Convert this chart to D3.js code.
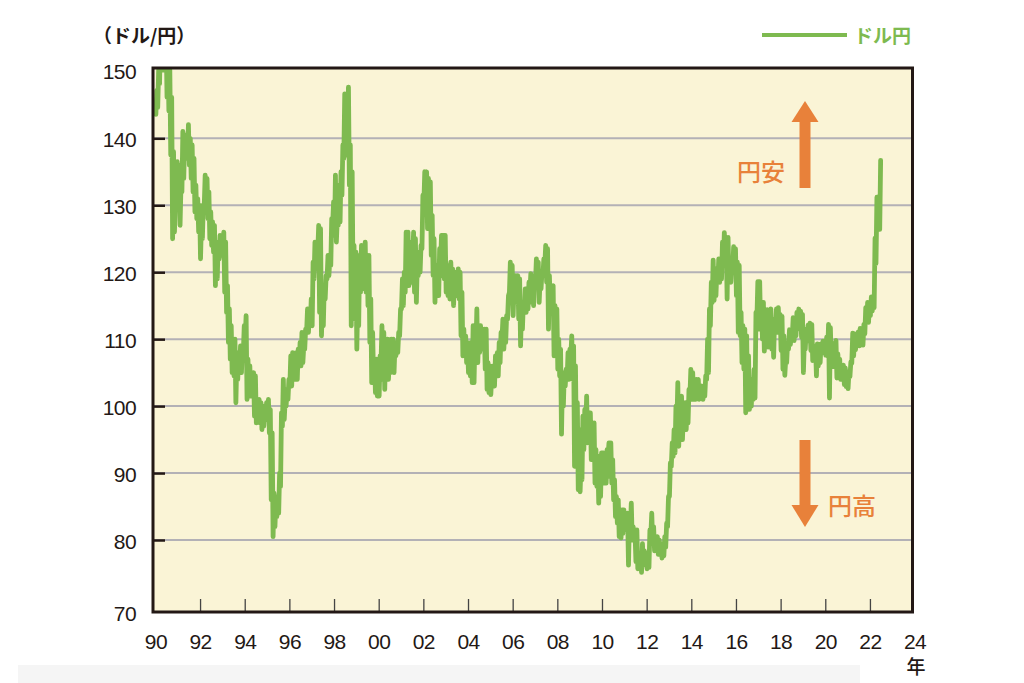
<!DOCTYPE html>
<html><head><meta charset="utf-8">
<script src="https://cdn.jsdelivr.net/npm/d3@7"></script>
<style>body{margin:0;background:#fff}</style>
</head><body>
<svg id="c" width="1024" height="683"></svg>
<script>
// USD/JPY monthly low / high (yen)
const years = [1990,1991,1992,1993,1994,1995,1996,1997,1998,1999,2000,2001,2002,2003,2004,2005,2006,2007,2008,2009,2010,2011,2012,2013,2014,2015,2016,2017,2018,2019,2020,2021,2022];
const monthlyLow = [
 [143.5,144.5,148,155,150,151.5,146,144,137.5,125,126,131],
 [131,127,132,134,137,137,136,134,132,129,128,126],
 [122,125,130,130,128,125,124,123,118,119,122,122.5],
 [123,117,114,109.5,107,105,104.5,100.5,104,105,105,108],
 [110,101,102,101.5,102,98.5,97.5,99,97.5,96.5,97,98.5],
 [98,96,86,80.5,82,83.5,84,88,97,98,100,101],
 [103,103,104,104,104,106,106,106.5,108.5,111,111,112],
 [112,119,120.5,123,114,110.5,112,116,119,119.5,121,127],
 [125.5,124.5,127,127.5,131.5,137,137.5,141,133,112,117,113],
 [108.5,112,117,117.5,119,117,115,109.5,103.5,104,102,101.5],
 [101.5,106.5,104,102.5,105.5,104,105,106,105,107.5,108,110.5],
 [114.5,115,117,121,118,118.5,122,117,115.5,119.5,120,123.5],
 [130,131,126.5,127,122.5,119.5,115.5,116.5,116.5,121,119.5,119],
 [117,116.5,116,117.5,115,116.5,116.5,116,110.5,107.5,107.5,106.5],
 [105,104.5,103.5,103.5,108.5,106.5,108,108.5,109,105.5,102.5,102],
 [101.7,103,103,104.5,104.5,106.5,110,108.5,109.5,113,117,115.5],
 [113.5,116,115.5,113,109,111.5,114,114,114.5,117,115.5,115],
 [118.5,118.5,115.5,117.5,119.5,121,118.5,111.5,114.5,114,107.5,110.5],
 [105.5,104.5,95.8,100,103,104,104,107.5,104,91,93.5,87.5],
 [87.2,89,93.5,96,94.5,94.5,92,92.5,88.5,88,85.5,86.5],
 [89,88.5,88.5,92.5,89.5,88.5,86,83.5,82.5,80.5,80.3,81],
 [81.5,81.5,76.5,81.5,80,80,77,76,76.3,75.5,76.5,77.5],
 [76,76.2,80.8,79.5,78.5,78.5,78,78,77.5,77.8,79,82],
 [86.5,91,92.5,93,97.5,94,97.5,95,97,96.5,97.5,101.5],
 [101,101,101,101.5,101,101.5,101,101.5,104,105,112,115.5],
 [115.8,116.5,118.5,118.5,119,121.5,122,116,118.5,118.5,120.5,120],
 [116.5,111,110.5,106.5,105.5,99,100,99.5,100,101,101.2,113],
 [111.5,111.5,110,108.2,110.5,108.8,110.5,108.5,107.3,111.5,111,111.5],
 [108.3,105.5,104.6,106.5,108.5,109.2,110.3,109.8,110.5,111.5,112.3,110.3],
 [105,108.5,109.7,110.8,108.3,106.8,107.2,104.5,106,106.5,108,108.5],
 [107.6,107.5,101.2,106.3,105.9,106.1,104.2,105.2,104,104,103.2,102.9],
 [102.6,104.4,106.4,107.5,108.4,109.2,109,109.1,109.1,110.8,112.6,112.5],
 [113.5,114.2,114.7,121.3,126.4,126.4]
];
const monthlyHigh = [
 [147,150,158,160,155,155,152,150,146,138,131,136.5],
 [136,133,141,140.5,140,142,140,139,137,133,131,130],
 [127.5,130,134.5,134,132,129,127.5,127,124,124.5,125.5,125.5],
 [126,124.5,118,114.5,112,110,110,107,108,109,109,112],
 [113.5,107,106,104.5,105,104.5,101,101,100.5,100,99.5,100.5],
 [101,99.5,96,87,86,86.5,90,99,104,101,102.5,104],
 [107.5,108,107.5,108,108.5,109.5,111,109,111.5,114.5,114,116],
 [121.5,124.5,124,127,126.5,115,118,119.5,122.5,122,128,130.5],
 [134.5,128,133,135,139,146.5,146,147.5,139,135,124,123],
 [116,122.5,124,121,124.5,122,122.5,116,111,107,107,105],
 [107.5,112,111,109,110,107,110,110,109,109.5,111,114.5],
 [119,120,126,126,124,124.5,126,125,121.5,123,124,131.5],
 [135,135,134,133.5,128.5,125,121,121,123.5,125.5,125.5,125.5],
 [120,121,121.5,120.5,120,119.5,120.5,120,117,111.5,110.5,109.5],
 [107.5,109.5,112,110.5,114.5,111,112,111.5,111.5,111.5,106.5,106],
 [104.5,106,107.5,108,109.5,111,113,111.5,113.5,116.5,121.5,121],
 [118,119.5,119.5,119,114.5,115.5,117.5,117.5,118.5,119.8,118.5,119.5],
 [122,121.5,119,120,122,124,123.5,119.5,117,118,115,114.5],
 [110,108.5,104,105,105.5,108,108.5,110.5,109,106,100.5,96.5],
 [91.5,98.5,99.5,101.5,99,99,96,97.5,93.5,92.5,92.5,93],
 [93,91.5,93.5,94.5,94.5,92,89,86.5,86,84,84.5,84.5],
 [83.5,84,83.5,85.5,82,81,81.5,78,77.5,79.5,78.5,78.2],
 [77.5,81.5,84,82,80.5,80.5,80,79.5,79,80.5,82.5,86.5],
 [91.5,94.5,96.5,100,103.5,100.5,101.5,99,100.5,99.5,102.5,105.5],
 [105,103,104,104,103,103,102.5,104.5,110,114.5,118.5,121.8],
 [120.5,120.5,122,120.5,124.5,125.9,125,125.2,121.5,121.5,123.8,123.5],
 [121.5,121,114,112,111.5,110.5,107.5,103,104,105.5,114,118.6],
 [118.6,114.9,115.5,112,114.4,112.5,114.5,111,113,114.5,114.7,113.7],
 [113.4,110.5,107,109.5,111.4,110.9,113.2,111.8,114,114.5,114.2,113.7],
 [109.8,111.5,112.1,112.4,112.2,108.8,109,109.3,108.5,109.3,109.7,109.7],
 [110.3,112.2,111.7,109.4,108.1,109.8,107.8,107,106.1,106.1,105.7,104.8],
 [105.2,106.6,110.9,110.8,110.2,111.1,111.6,110.8,112.2,114.7,115.5,115.2],
 [116.3,116.3,125.1,131.2,131.3,136.7]
];
const yTicks = [70,80,90,100,110,120,130,140,150];
const gridValues = [80,90,100,110,120,130,140];
const xTicks = [1990,1992,1994,1996,1998,2000,2002,2004,2006,2008,2010,2012,2014,2016,2018,2020,2022,2024];
const xTickLabels = ["90","92","94","96","98","00","02","04","06","08","10","12","14","16","18","20","22","24"];
const seriesName = "ドル円";
const unitLabel = "（ドル/円）";
const yearUnit = "年";
const upLabel = "円安", downLabel = "円高";

const GREEN = "#7eba50", ORANGE = "#e8813a", INK = "#231815";
const svg = d3.select("#c");
const frame = {left:153, right:912.5, top:68, bottom:612};

const x = d3.scaleLinear().domain([1990,2024]).range([155.4,914.6]);
const y = d3.scaleLinear().domain([70,80,140,150]).range([612,540,138.3,70]);

// bottom light band
svg.append("rect").attr("x",18).attr("y",665).attr("width",842).attr("height",18).attr("fill","#f5f5f5");

// plot bg
svg.append("rect").attr("x",frame.left).attr("y",frame.top)
  .attr("width",frame.right-frame.left).attr("height",frame.bottom-frame.top)
  .attr("fill","#faf4d6");

svg.append("clipPath").attr("id","clip").append("rect")
  .attr("x",frame.left).attr("y",frame.top)
  .attr("width",frame.right-frame.left).attr("height",frame.bottom-frame.top);

// gridlines
svg.append("g").selectAll("line").data(gridValues).join("line")
  .attr("x1",frame.left).attr("x2",frame.right)
  .attr("y1",d=>y(d)).attr("y2",d=>y(d))
  .attr("stroke","#b3b1b6").attr("stroke-width",2);

// x axis (ticks inside)
const xAxis = svg.append("g").attr("transform",`translate(0,${frame.bottom})`)
  .call(d3.axisBottom(x).tickValues(xTicks).tickSize(-13).tickPadding(22)
        .tickFormat((d,i)=>xTickLabels[i]));
xAxis.select(".domain").remove();
xAxis.selectAll(".tick line").attr("stroke","#444").attr("stroke-width",1.3)
  .attr("opacity",d=>(d===1990||d===2024)?0:1);
xAxis.selectAll(".tick text").attr("fill",INK)
  .style("font-family","'Liberation Sans',Arial,sans-serif").style("font-size","21px")
  .attr("letter-spacing","-0.6");

// y axis (ticks inside)
const yAxis = svg.append("g").attr("transform",`translate(${frame.left},0)`)
  .call(d3.axisLeft(y).tickValues(yTicks).tickSize(-12).tickPadding(17));
yAxis.select(".domain").remove();
yAxis.selectAll(".tick line").attr("stroke",INK).attr("stroke-width",2.5)
  .attr("opacity",d=>(d===70||d===150)?0:1);
yAxis.selectAll(".tick text").attr("fill",INK).attr("dy","0.40em")
  .style("font-family","'Liberation Sans',Arial,sans-serif").style("font-size","21px")
  .attr("letter-spacing","-0.6");

// series
const pts = [];
years.forEach((yr,i)=>{
  monthlyLow[i].forEach((lo,m)=>{
    pts.push({t: yr + (m+0.25)/12, v: lo});
    pts.push({t: yr + (m+0.75)/12, v: monthlyHigh[i][m]});
  });
});
const line = d3.line().x(d=>x(d.t)).y(d=>y(d.v));
svg.append("path").datum(pts).attr("clip-path","url(#clip)")
  .attr("d",line).attr("fill","none").attr("stroke",GREEN)
  .attr("stroke-width",4.8).attr("stroke-linejoin","round").attr("stroke-linecap","round");

// frame
svg.append("rect").attr("x",frame.left).attr("y",frame.top)
  .attr("width",frame.right-frame.left).attr("height",frame.bottom-frame.top)
  .attr("fill","none").attr("stroke",INK).attr("stroke-width",3);

// arrows
const arrowX = 805;
svg.append("rect").attr("x",arrowX-5.5).attr("y",118).attr("width",11).attr("height",70).attr("fill",ORANGE);
svg.append("path").attr("d",`M${arrowX-13.5},122 L${arrowX+13.5},122 L${arrowX},101 Z`).attr("fill",ORANGE);
svg.append("rect").attr("x",arrowX-5.5).attr("y",440).attr("width",11).attr("height",68).attr("fill",ORANGE);
svg.append("path").attr("d",`M${arrowX-13.5},505 L${arrowX+13.5},505 L${arrowX},527 Z`).attr("fill",ORANGE);

const jp = "'Noto Sans CJK JP','Noto Sans',sans-serif";
svg.append("text").attr("x",737).attr("y",181).text(upLabel)
  .attr("fill",ORANGE).style("font-family",jp).style("font-size","24px").style("font-weight",500);
svg.append("text").attr("x",828).attr("y",515).text(downLabel)
  .attr("fill",ORANGE).style("font-family",jp).style("font-size","24px").style("font-weight",500);

// title / unit
svg.append("text").attr("x",93).attr("y",43).text(unitLabel)
  .attr("fill",INK).style("font-family",jp).style("font-size","19px").style("font-weight",700);
svg.append("text").attr("x",916).attr("y",674).attr("text-anchor","middle").text(yearUnit)
  .attr("fill",INK).style("font-family",jp).style("font-size","19px").style("font-weight",500);

// legend
svg.append("line").attr("x1",762).attr("x2",847).attr("y1",35).attr("y2",35)
  .attr("stroke",GREEN).attr("stroke-width",4);
svg.append("text").attr("x",854).attr("y",43).text(seriesName)
  .attr("fill",GREEN).style("font-family",jp).style("font-size","19px").style("font-weight",700);
</script>
</body></html>
